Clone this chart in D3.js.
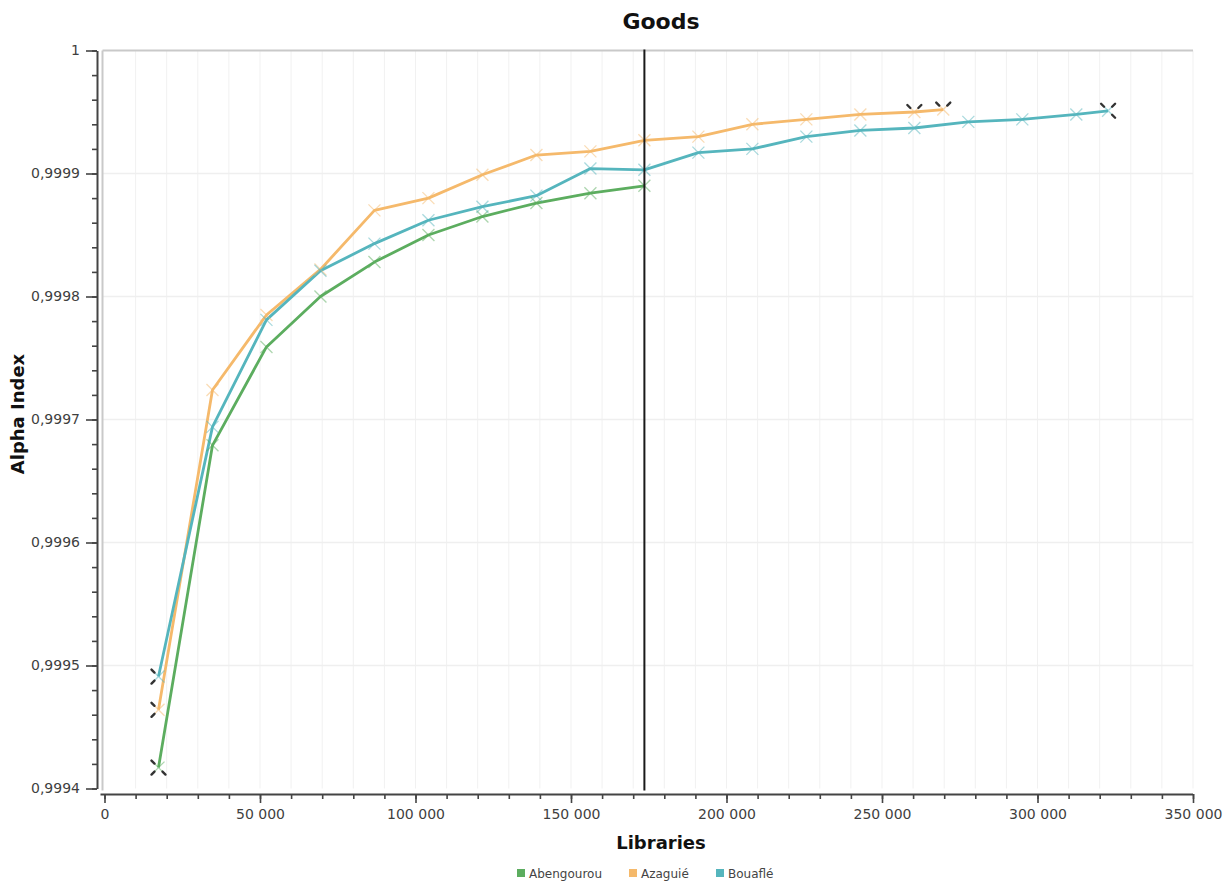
<!DOCTYPE html>
<html>
<head>
<meta charset="utf-8">
<script src="https://cdn.jsdelivr.net/npm/d3@7"></script>
<style>
  html, body { margin: 0; padding: 0; background: #fff; }
  svg { display: block; font-family: "DejaVu Sans", Verdana, sans-serif; }
</style>
</head>
<body>
<svg id="chart" width="1231" height="884"></svg>
<script>
// ---- data ----
const seriesNames = ["Abengourou", "Azaguié", "Bouaflé"];
const seriesColors = ["#5cad5f", "#f5b96b", "#55b5bd"];

const abengourouX = [17360, 34720, 52080, 69440, 86800, 104160, 121520, 138880, 156240, 173600];
const abengourouY = [0.999417, 0.999679, 0.999759, 0.9998, 0.999828, 0.99985, 0.999865, 0.999876, 0.999884, 0.99989];

const azaguieX = [17360, 34720, 52080, 69440, 86800, 104160, 121520, 138880, 156240, 173600, 190960, 208320, 225680, 243040, 260400, 269700];
const azaguieY = [0.999464, 0.999724, 0.999785, 0.999822, 0.99987, 0.99988, 0.999899, 0.999915, 0.999918, 0.999927, 0.99993, 0.99994, 0.999944, 0.999948, 0.99995, 0.999952];

const bouafleX = [17360, 34720, 52080, 69440, 86800, 104160, 121520, 138880, 156240, 173600, 190960, 208320, 225680, 243040, 260400, 277760, 295120, 312480, 322700];
const bouafleY = [0.999491, 0.999694, 0.999781, 0.999821, 0.999843, 0.999862, 0.999873, 0.999882, 0.999904, 0.999903, 0.999917, 0.99992, 0.99993, 0.999935, 0.999937, 0.999942, 0.999944, 0.999948, 0.999951];

const cursorX = 173600;          // vertical black reference line
const xTickValues = [0, 50000, 100000, 150000, 200000, 250000, 300000, 350000];
const yTickValues = [0.9994, 0.9995, 0.9996, 0.9997, 0.9998, 0.9999, 1];

const titleText = "Goods";
const xLabel = "Libraries";
const yLabel = "Alpha Index";

// ---- layout ----
const svg = d3.select("#chart");
const plot = { left: 104.5, right: 1193, top: 50.5, bottom: 788.5 };
const x = d3.scaleLinear().domain([0, 350000]).range([plot.left, plot.right]);
const y = d3.scaleLinear().domain([0.9994, 1]).range([plot.bottom, plot.top]);

const series = [
  { name: seriesNames[0], color: seriesColors[0], pts: abengourouX.map((v, i) => [v, abengourouY[i]]) },
  { name: seriesNames[1], color: seriesColors[1], pts: azaguieX.map((v, i) => [v, azaguieY[i]]) },
  { name: seriesNames[2], color: seriesColors[2], pts: bouafleX.map((v, i) => [v, bouafleY[i]]) }
];

// grid
const grid = svg.append("g");
const minorX = d3.range(10000, 350001, 10000);
grid.selectAll("line.vx").data(minorX).join("line")
  .attr("x1", d => x(d)).attr("x2", d => x(d))
  .attr("y1", plot.top).attr("y2", plot.bottom)
  .attr("stroke", "#f1f1f1").attr("stroke-width", 1);
grid.selectAll("line.hy").data(yTickValues.slice(1, -1)).join("line")
  .attr("x1", plot.left - 2).attr("x2", plot.right)
  .attr("y1", d => y(d)).attr("y2", d => y(d))
  .attr("stroke", "#efefef").attr("stroke-width", 1.5);

// plot frame (top + left)
svg.append("line").attr("x1", plot.left - 2).attr("x2", plot.right)
  .attr("y1", plot.top).attr("y2", plot.top)
  .attr("stroke", "#c9c9c9").attr("stroke-width", 2);
svg.append("line").attr("x1", plot.left - 2).attr("x2", plot.left - 2)
  .attr("y1", plot.top).attr("y2", plot.bottom + 2)
  .attr("stroke", "#c9c9c9").attr("stroke-width", 2);

// axes
const fmtY = d => d === 1 ? "1" : d3.format(".4f")(d).replace(".", ",");
const fmtX = d => d === 0 ? "0" : d3.format(",")(d).replace(/,/g, " ");

const yAxisX = 97;
const xAxisY = 794;

const yMinor = svg.append("g").attr("transform", `translate(${yAxisX},0)`)
  .call(d3.axisLeft(y).tickValues(d3.range(0, 31).map(i => 0.9994 + i * 0.00002)).tickSize(5).tickFormat(""));
yMinor.select(".domain").remove();
yMinor.selectAll("line").attr("stroke", "#444").attr("stroke-width", 1.6);

const yAxis = svg.append("g").attr("transform", `translate(${yAxisX},0)`)
  .call(d3.axisLeft(y).tickValues(yTickValues).tickSize(11).tickSizeOuter(0).tickPadding(6).tickFormat(fmtY));
yAxis.select(".domain").attr("stroke", "#444").attr("stroke-width", 2);
yAxis.selectAll(".tick line").attr("stroke", "#444").attr("stroke-width", 1.6);
yAxis.selectAll("text").attr("font-size", 14).attr("fill", "#3f3f3f").attr("font-family", "DejaVu Sans");

const xMinor = svg.append("g").attr("transform", `translate(0,${xAxisY})`)
  .call(d3.axisBottom(x).tickValues(d3.range(0, 350001, 10000)).tickSize(5).tickFormat(""));
xMinor.select(".domain").remove();
xMinor.selectAll("line").attr("stroke", "#444").attr("stroke-width", 1.6);

const xAxis = svg.append("g").attr("transform", `translate(0,${xAxisY})`)
  .call(d3.axisBottom(x).tickValues(xTickValues).tickSize(9).tickSizeOuter(0).tickPadding(6).tickFormat(fmtX));
xAxis.select(".domain").attr("stroke", "#444").attr("stroke-width", 2)
  .attr("d", `M${plot.left - 4},0.5H${plot.right}`);
xAxis.selectAll(".tick line").attr("stroke", "#444").attr("stroke-width", 1.6);
xAxis.selectAll("text").attr("font-size", 14).attr("fill", "#3f3f3f").attr("font-family", "DejaVu Sans");

// lines
const line = d3.line().x(d => x(d[0])).y(d => y(d[1]));
const gLines = svg.append("g");
series.forEach(s => {
  gLines.append("path").datum(s.pts).attr("d", line)
    .attr("fill", "none").attr("stroke", s.color).attr("stroke-width", 2.8)
    .attr("stroke-linejoin", "round");
});

// markers
const ms = 6;
series.forEach(s => {
  const g = svg.append("g");
  s.pts.forEach(p => {
    const cx = x(p[0]), cy = y(p[1]);
    g.append("path")
      .attr("d", `M${cx - ms},${cy - ms}L${cx + ms},${cy + ms}M${cx - ms},${cy + ms}L${cx + ms},${cy - ms}`)
      .attr("stroke", s.color).attr("stroke-opacity", 0.5).attr("stroke-width", 1.3).attr("fill", "none");
  });
});

// dark tip highlights at start / end points
function tips(px, py, dirs) {
  const g = svg.append("g");
  dirs.forEach(([dx, dy]) => {
    g.append("line")
      .attr("x1", x(px) + dx * 4).attr("y1", y(py) + dy * 4)
      .attr("x2", x(px) + dx * 7).attr("y2", y(py) + dy * 7)
      .attr("stroke", "#333").attr("stroke-width", 2.4).attr("stroke-linecap", "round");
  });
}
series.forEach(s => {
  const first = s.pts[0];
  tips(first[0], first[1], [[-1, -1], [-1, 1]]);
});
tips(azaguieX[azaguieX.length - 1], azaguieY[azaguieY.length - 1], [[-1, -1], [1, -1]]);
tips(azaguieX[azaguieX.length - 2], azaguieY[azaguieY.length - 2], [[-1, -1], [1, -1]]);
tips(bouafleX[bouafleX.length - 1], bouafleY[bouafleY.length - 1], [[-1, -1], [1, -1], [1, 1]]);
tips(abengourouX[0], abengourouY[0], [[1, 1]]);

// vertical cursor
svg.append("line").attr("x1", x(cursorX)).attr("x2", x(cursorX))
  .attr("y1", plot.top - 1).attr("y2", plot.bottom + 2)
  .attr("stroke", "#1a1a1a").attr("stroke-width", 2);

// titles
svg.append("text").attr("x", 661).attr("y", 29).attr("text-anchor", "middle")
  .attr("font-size", 22).attr("font-weight", "bold").attr("fill", "#111").text(titleText);
svg.append("text").attr("x", 661).attr("y", 849).attr("text-anchor", "middle")
  .attr("font-size", 18).attr("font-weight", "bold").attr("fill", "#111").text(xLabel);
svg.append("text").attr("transform", "translate(24,414) rotate(-90)").attr("text-anchor", "middle")
  .attr("font-size", 18).attr("font-weight", "bold").attr("fill", "#111").text(yLabel);

// legend
const legendX = [517, 629, 716];
const leg = svg.append("g");
series.forEach((s, i) => {
  leg.append("rect").attr("x", legendX[i]).attr("y", 869).attr("width", 8).attr("height", 8)
    .attr("fill", s.color);
  leg.append("text").attr("x", legendX[i] + 12).attr("y", 877.5)
    .attr("font-size", 12).attr("fill", "#444").text(s.name);
});
</script>
</body>
</html>
